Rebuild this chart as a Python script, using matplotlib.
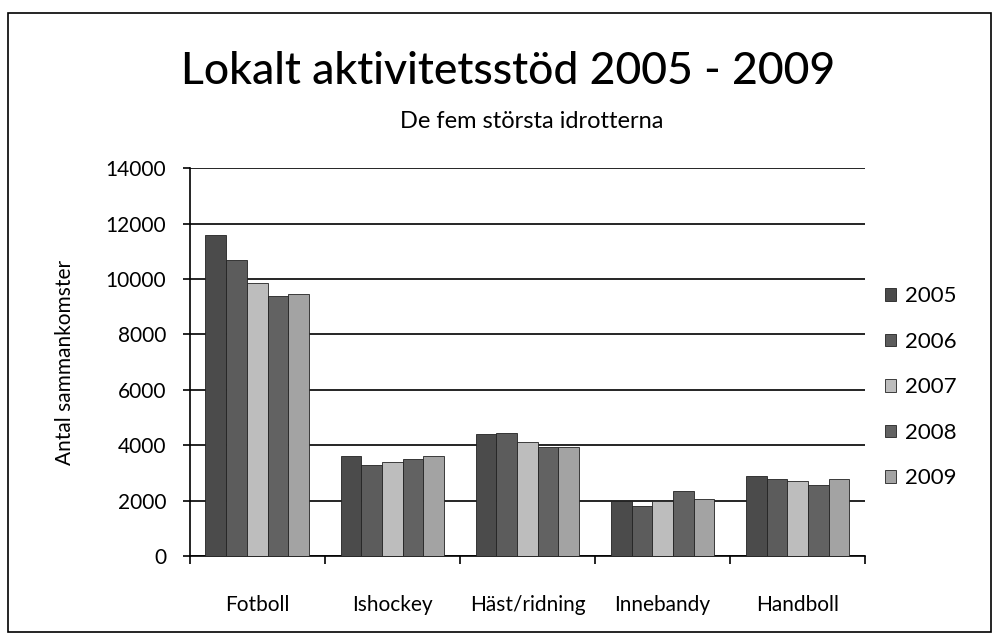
import numpy as np
import matplotlib.pyplot as plt
from matplotlib.patches import Rectangle

plt.rcParams['font.family'] = ['Lato', 'DejaVu Sans']

sporter = ['Fotboll', 'Ishockey', 'Häst/ridning', 'Innebandy', 'Handboll']
ar = ['2005', '2006', '2007', '2008', '2009']
v2005 = [11600, 3600, 4400, 2000, 2900]
v2006 = [10700, 3300, 4450, 1800, 2800]
v2007 = [9850, 3400, 4100, 2000, 2700]
v2008 = [9400, 3500, 3950, 2350, 2550]
v2009 = [9450, 3600, 3950, 2050, 2800]
serier = [v2005, v2006, v2007, v2008, v2009]
farger = ['#4b4b4b', '#5c5c5c', '#bdbdbd', '#626262', '#a3a3a3']

fig = plt.figure(figsize=(9.98, 6.37), dpi=100)
ax = fig.add_axes([0.19, 0.127, 0.677, 0.609])

x = np.arange(len(sporter))
w = 0.153
for i, (vals, c) in enumerate(zip(serier, farger)):
    ax.bar(x + (i - 2) * w, vals, w, color=c, edgecolor='#222222',
           linewidth=0.6, label=ar[i], zorder=3)

ax.set_xlim(-0.5, 4.5)
ax.set_ylim(0, 14000)
ax.set_yticks(range(0, 14001, 2000))
ax.yaxis.grid(True, color='black', linewidth=1.2, zorder=0)
ax.set_xticks(x)
ax.set_xticklabels(sporter, fontsize=15)
ax.set_xticks(np.arange(-0.5, 5, 1), minor=True)
ax.tick_params(axis='x', which='major', length=0, pad=28)
ax.tick_params(axis='x', which='minor', length=6, width=1.2, direction='out')
ax.tick_params(axis='y', labelsize=15, length=5, width=1.2, pad=12)
for s in ['top', 'right']:
    ax.spines[s].set_visible(False)
for s in ['left', 'bottom']:
    ax.spines[s].set_linewidth(1.2)
ax.set_ylabel('Antal sammankomster', fontsize=15, labelpad=22)

ax.legend(loc='center left', bbox_to_anchor=(1.0, 0.435), frameon=False,
          fontsize=16, handlelength=0.5, handleheight=0.5, handletextpad=0.4,
          labelspacing=1.15)

fig.text(0.509, 0.887, 'Lokalt aktivitetsstöd 2005 - 2009', ha='center',
         va='center', fontsize=32, fontweight='medium')
fig.text(0.533, 0.81, 'De fem största idrotterna', ha='center', va='center',
         fontsize=17)

fig.add_artist(Rectangle((0.008, 0.008), 0.985, 0.972, transform=fig.transFigure,
                         fill=False, edgecolor='black', linewidth=1.2))

fig.savefig('out.png', dpi=100)
